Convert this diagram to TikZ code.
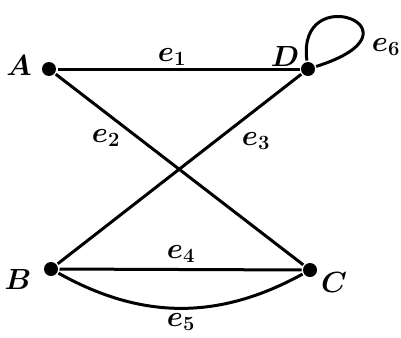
\documentclass[tikz,border=0pt]{standalone}
\usepackage{bm}
\usepackage{tikz}

\tikzset{
	vert/.style={circle, fill, inner sep=0pt, minimum size=0.42cm},
	lab/.style={font=\fontsize{23}{26}\selectfont}
}

\begin{document}
\begin{tikzpicture}[x=0.03cm, y=-0.03cm, line width=0.09cm]
	\useasboundingbox (0, 0) rectangle (401, 337);
	% vertices
	\node [vert] (A) at (49, 69) {};
	\node [vert] (D) at (308, 69) {};
	\node [vert] (B) at (51, 269) {};
	\node [vert] (C) at (310, 270) {};
	% edges
	\draw (A) -- (D);
	\draw (A) -- (C);
	\draw (B) -- (D);
	\draw (B) -- (C);
	\draw (B) to [bend right=29] (C);
	\draw (D) .. controls (296, -22) and (432, 30) .. (D);
	% vertex labels
	\node [lab] (lA) at (19, 65) {$\bm{A}$};
	\node [lab] (lD) at (285, 56) {$\bm{D}$};
	\node [lab] (lB) at (18, 279) {$\bm{B}$};
	\node [lab] (lC) at (334, 282) {$\bm{C}$};
	% edge labels
	\node [lab] (l1) at (172, 57) {$\bm{e_1}$};
	\node [lab] (l2) at (106, 138) {$\bm{e_2}$};
	\node [lab] (l3) at (256, 141) {$\bm{e_3}$};
	\node [lab] (l4) at (181, 254) {$\bm{e_4}$};
	\node [lab] (l5) at (181, 322) {$\bm{e_5}$};
	\node [lab] (l6) at (386, 47) {$\bm{e_6}$};
\end{tikzpicture}
\end{document}
